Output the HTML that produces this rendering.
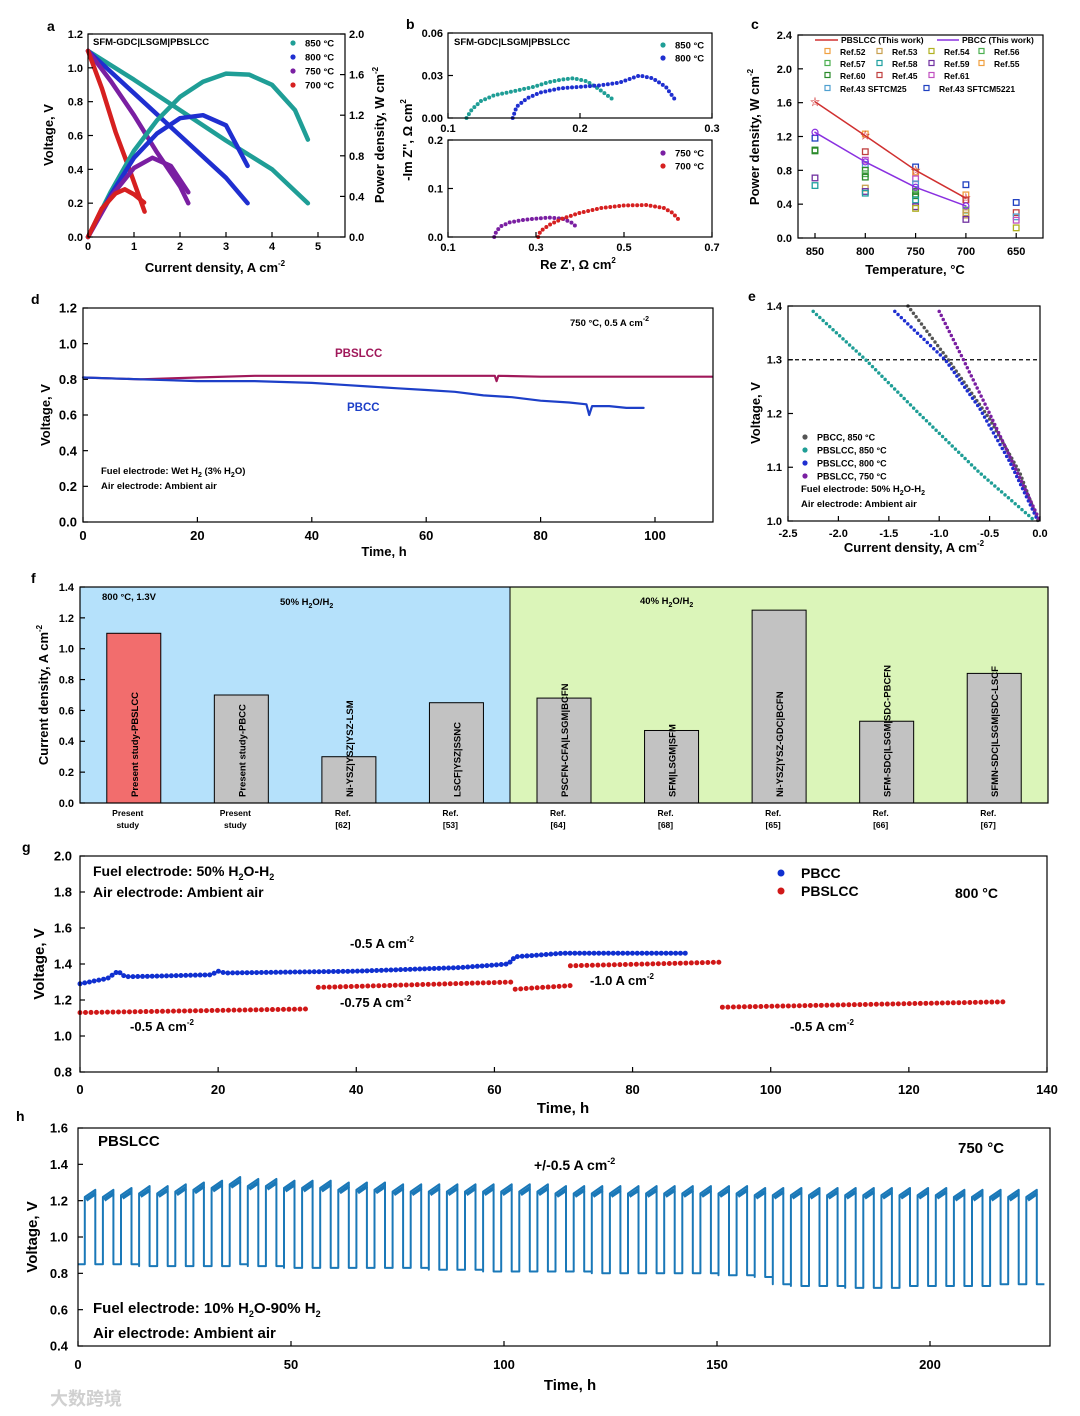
<!DOCTYPE html>
<html><head><meta charset="utf-8"><style>
html,body{margin:0;padding:0;background:#fff;}
svg{display:block;font-family:"Liberation Sans","Noto Sans CJK SC",sans-serif;font-weight:bold;}
</style></head><body>
<svg id="fig" width="1080" height="1416" viewBox="0 0 1080 1416" xmlns="http://www.w3.org/2000/svg">
<rect x="0" y="0" width="1080" height="1416" fill="#fff"/>
<rect x="80" y="587" width="430" height="216" fill="#b5e1fb"/>
<rect x="510" y="587" width="538" height="216" fill="#dbf5b9"/>
<g id="marks"></g>
<g id="axes"></g>
<g font-size="14" fill="#000">
<text x="47" y="31">a</text>
<text x="406" y="29">b</text>
<text x="751" y="29">c</text>
<text x="31" y="304">d</text>
<text x="748" y="301">e</text>
<text x="31" y="583">f</text>
<text x="22" y="852">g</text>
<text x="16" y="1121">h</text>
</g>
<g font-size="13">
<text x="215" y="272" text-anchor="middle">Current density, A cm<tspan font-size="8" dy="-6">-2</tspan></text>
<text transform="translate(53,135) rotate(-90)" text-anchor="middle">Voltage, V</text>
<text transform="translate(384,135) rotate(-90)" text-anchor="middle">Power density, W cm<tspan font-size="8" dy="-6">-2</tspan></text>
<text x="578" y="269" text-anchor="middle">Re Z', Ω cm<tspan font-size="8" dy="-6">2</tspan></text>
<text transform="translate(412,140) rotate(-90)" text-anchor="middle">-Im Z'', Ω cm<tspan font-size="8" dy="-6">2</tspan></text>
<text x="915" y="274" text-anchor="middle">Temperature, °C</text>
<text transform="translate(759,137) rotate(-90)" text-anchor="middle">Power density, W cm<tspan font-size="8" dy="-6">-2</tspan></text>
<text x="384" y="556" text-anchor="middle">Time, h</text>
<text transform="translate(50,415) rotate(-90)" text-anchor="middle">Voltage, V</text>
<text x="914" y="552" text-anchor="middle">Current density, A cm<tspan font-size="8" dy="-6">-2</tspan></text>
<text transform="translate(760,413) rotate(-90)" text-anchor="middle">Voltage, V</text>
<text transform="translate(48,695) rotate(-90)" text-anchor="middle">Current density, A cm<tspan font-size="8" dy="-6">-2</tspan></text>
</g>
<g font-size="15">
<text x="563" y="1113" text-anchor="middle">Time, h</text>
<text transform="translate(44,964) rotate(-90)" text-anchor="middle">Voltage, V</text>
<text x="570" y="1390" text-anchor="middle">Time, h</text>
<text transform="translate(37,1237) rotate(-90)" text-anchor="middle">Voltage, V</text>
</g>
<g font-size="9.5">
<text x="93" y="45">SFM-GDC|LSGM|PBSLCC</text>
<text x="454" y="45">SFM-GDC|LSGM|PBSLCC</text>
<text x="570" y="326">750 °C, 0.5 A cm<tspan font-size="7" dy="-5">-2</tspan></text>
<text x="101" y="474">Fuel electrode: Wet H<tspan font-size="7" dy="3">2</tspan><tspan dy="-3"> (3% H</tspan><tspan font-size="7" dy="3">2</tspan><tspan dy="-3">O)</tspan></text>
<text x="101" y="489">Air electrode: Ambient air</text>
<text x="801" y="492">Fuel electrode: 50% H<tspan font-size="7" dy="3">2</tspan><tspan dy="-3">O-H</tspan><tspan font-size="7" dy="3">2</tspan></text>
<text x="801" y="507">Air electrode: Ambient air</text>
<text x="102" y="600">800 °C, 1.3V</text>
<text x="280" y="605">50% H<tspan font-size="7" dy="3">2</tspan><tspan dy="-3">O/H</tspan><tspan font-size="7" dy="3">2</tspan></text>
<text x="640" y="604">40% H<tspan font-size="7" dy="3">2</tspan><tspan dy="-3">O/H</tspan><tspan font-size="7" dy="3">2</tspan></text>
</g>
<g font-size="11.5">
<text x="335" y="357" fill="#a0185a">PBSLCC</text>
<text x="347" y="411" fill="#1d3fc8">PBCC</text>
</g>
<g font-size="14">
<text x="93" y="876">Fuel electrode: 50% H<tspan font-size="9" dy="4">2</tspan><tspan dy="-4">O-H</tspan><tspan font-size="9" dy="4">2</tspan></text>
<text x="93" y="897">Air electrode: Ambient air</text>
<circle cx="781" cy="873" r="3.5" fill="#1030d0"/>
<text x="801" y="878">PBCC</text>
<circle cx="781" cy="891" r="3.5" fill="#d01818"/>
<text x="801" y="896">PBSLCC</text>
<text x="955" y="898">800 °C</text>
<text x="350" y="948" font-size="13">-0.5 A cm<tspan font-size="8" dy="-6">-2</tspan></text>
<text x="130" y="1031" font-size="13">-0.5 A cm<tspan font-size="8" dy="-6">-2</tspan></text>
<text x="340" y="1007" font-size="13">-0.75 A cm<tspan font-size="8" dy="-6">-2</tspan></text>
<text x="590" y="985" font-size="13">-1.0 A cm<tspan font-size="8" dy="-6">-2</tspan></text>
<text x="790" y="1031" font-size="13">-0.5 A cm<tspan font-size="8" dy="-6">-2</tspan></text>
<text x="98" y="1146" font-size="15">PBSLCC</text>
<text x="958" y="1153" font-size="15">750 °C</text>
<text x="534" y="1170">+/-0.5 A cm<tspan font-size="9" dy="-6">-2</tspan></text>
<text x="93" y="1313" font-size="15">Fuel electrode: 10% H<tspan font-size="9" dy="4">2</tspan><tspan dy="-4">O-90% H</tspan><tspan font-size="9" dy="4">2</tspan></text>
<text x="93" y="1338" font-size="15">Air electrode: Ambient air</text>
</g>
<text x="50" y="1405" font-size="18" fill="#d0d0d0">大数跨境</text>
</svg>
<script>
const a850J=[0,1,2,3,4,4.78], a850V=[1.1,0.93,0.75,0.57,0.4,0.2];
const a800J=[0,1,2,3,3.47], a800V=[1.1,0.85,0.6,0.35,0.2];
const a750J=[0,0.5,1,1.5,2,2.18], a750V=[1.1,0.92,0.72,0.5,0.3,0.2];
const a700J=[0,0.3,0.6,0.9,1.23], a700V=[1.1,0.88,0.62,0.4,0.15];
const p850J=[0,0.5,1,1.5,2,2.5,3,3.5,4,4.5,4.78], p850P=[0,0.45,0.85,1.15,1.38,1.53,1.61,1.6,1.5,1.25,0.96];
const p800J=[0,0.5,1,1.5,2,2.5,3,3.47], p800P=[0,0.42,0.78,1.02,1.17,1.2,1.1,0.7];
const p750J=[0,0.5,1,1.4,1.8,2.18], p750P=[0,0.4,0.68,0.78,0.7,0.44];
const p700J=[0,0.3,0.6,0.8,1.0,1.22], p700P=[0,0.28,0.43,0.47,0.42,0.34];
const b850Re=[0.114,0.118,0.125,0.135,0.15,0.165,0.175,0.185,0.195,0.205,0.215,0.225], b850Im=[0,0.006,0.012,0.016,0.019,0.022,0.025,0.027,0.028,0.026,0.02,0.013];
const b800Re=[0.149,0.152,0.16,0.17,0.185,0.2,0.215,0.23,0.245,0.255,0.265,0.272], b800Im=[0,0.008,0.014,0.018,0.021,0.022,0.023,0.025,0.03,0.028,0.022,0.013];
const b750Re=[0.205,0.21,0.22,0.24,0.27,0.3,0.33,0.36,0.38,0.393], b750Im=[0,0.012,0.022,0.03,0.035,0.038,0.04,0.038,0.03,0.02];
const b700Re=[0.305,0.31,0.33,0.36,0.4,0.45,0.5,0.55,0.59,0.61,0.625], b700Im=[0,0.012,0.025,0.038,0.05,0.06,0.065,0.066,0.06,0.05,0.035];
const cTemps=['850','800','750','700','650'];
const cPBSLCC=[1.61,1.21,0.8,0.47];
const cPBCC=[1.25,0.9,0.6,0.38];
const cRefCat=[0,0,0,0,0,1,1,1,1,1,1,1,1,1,1,2,2,2,2,2,2,2,2,2,2,3,3,3,3,3,3,3,4,4,4,4,4];
const cRefVal=[1.18,1.03,1.04,0.71,0.62,1.23,1.02,0.92,0.87,0.8,0.76,0.72,0.59,0.55,0.53,0.84,0.78,0.7,0.64,0.55,0.52,0.5,0.45,0.37,0.35,0.63,0.51,0.45,0.33,0.3,0.27,0.22,0.42,0.3,0.25,0.21,0.12];
const cRefCol=[9,6,6,5,4,7,8,3,10,6,2,6,1,5,4,9,7,3,10,6,2,6,4,5,0,9,7,8,2,1,1,5,9,8,10,3,0];
const cPalette=['#b0b020','#c8a050','#4caf50','#c050c0','#20a0a0','#7030a0','#2a8a2a','#f0a040','#c04040','#2040c0','#50a0d0'];
const dPbslccT=[0,10,20,30,40,50,60,70,72,72.3,72.6,80,90,100,110], dPbslccV=[0.81,0.80,0.81,0.82,0.82,0.82,0.82,0.82,0.82,0.79,0.82,0.815,0.815,0.815,0.815];
const dPbccT=[0,10,20,30,40,45,50,55,60,65,70,75,80,85,88,88.5,89,92,95,98], dPbccV=[0.81,0.80,0.79,0.79,0.78,0.77,0.76,0.75,0.74,0.73,0.71,0.70,0.68,0.67,0.66,0.60,0.65,0.65,0.64,0.64];
const eJ1=[-1.31,-0.91,-0.5,-0.2,-0.02], eV1=[1.4,1.3,1.19,1.09,1.0];
const eJ2=[-2.25,-1.73,-1.2,-0.6,-0.05], eV2=[1.39,1.3,1.2,1.09,1.0];
const eJ3=[-1.44,-0.94,-0.6,-0.3,-0.02], eV3=[1.39,1.3,1.21,1.11,1.0];
const eJ4=[-1.0,-0.76,-0.5,-0.25,0], eV4=[1.39,1.3,1.2,1.1,1.0];
const fValues=[1.1,0.7,0.3,0.65,0.68,0.47,1.25,0.53,0.84];
const fCells=['Present study-PBSLCC','Present study-PBCC','Ni-YSZ|YSZ|YSZ-LSM','LSCF|YSZ|SSNC','PSCFN-CFA|LSGM|BCFN','SFM|LSGM|SFM','Ni-YSZ|YSZ-GDC|BCFN','SFM-SDC|LSGM|SDC-PBCFN','SFMN-SDC|LSGM|SDC-LSCF'];
const fRef1=['Present','Present','Ref.','Ref.','Ref.','Ref.','Ref.','Ref.','Ref.'];
const fRef2=['study','study','[62]','[53]','[64]','[68]','[65]','[66]','[67]'];
const gBlueT=[0,4,5.5,6.5,8,19,20,21,40,55,62,63,70,88], gBlueV=[1.29,1.32,1.36,1.33,1.33,1.34,1.36,1.35,1.36,1.38,1.40,1.44,1.46,1.46];
const gRedT=[[0,33],[34.5,63],[63,71],[71,93],[93,134]];
const gRedV=[[1.13,1.15],[1.27,1.30],[1.26,1.28],[1.39,1.41],[1.16,1.19]];
const hStart=1.6, hPeriod=4.25, hHiFrac=0.58;
const hHi=[1.26,1.26,1.27,1.28,1.28,1.29,1.30,1.31,1.33,1.32,1.32,1.31,1.31,1.31,1.30,1.30,1.30,1.29,1.29,1.29,1.29,1.29,1.29,1.29,1.29,1.29,1.28,1.28,1.28,1.28,1.28,1.28,1.28,1.28,1.28,1.28,1.28,1.27,1.27,1.27,1.27,1.27,1.27,1.27,1.27,1.27,1.27,1.27,1.26,1.26,1.26,1.26,1.26];
const hLo=[0.85,0.85,0.85,0.84,0.84,0.84,0.84,0.84,0.85,0.84,0.84,0.83,0.83,0.83,0.83,0.83,0.83,0.83,0.83,0.82,0.82,0.82,0.81,0.81,0.81,0.81,0.81,0.81,0.80,0.80,0.80,0.80,0.80,0.80,0.80,0.79,0.79,0.78,0.74,0.73,0.73,0.73,0.72,0.72,0.72,0.73,0.73,0.73,0.73,0.73,0.74,0.74,0.74];

const NS='http://www.w3.org/2000/svg';
const svg=document.getElementById('fig');
const M=document.getElementById('marks');
const A=document.getElementById('axes');
function mk(tag,attrs,parent){const n=document.createElementNS(NS,tag);for(const k in attrs)n.setAttribute(k,attrs[k]);parent.appendChild(n);return n;}
function lin(d0,d1,p0,p1){return v=>p0+(v-d0)/(d1-d0)*(p1-p0);}
function pts(xs,ys,X,Y){return xs.map((x,i)=>X(x).toFixed(1)+','+Y(ys[i]).toFixed(1)).join(' ');}
function line(xs,ys,X,Y,color,w,name,dash){
  const p=mk('polyline',{points:pts(xs,ys,X,Y),fill:'none',stroke:color,'stroke-width':w,'stroke-linejoin':'round','stroke-linecap':'round'},M);
  if(dash)p.setAttribute('stroke-dasharray',dash);
  
  
  return p;
}
function frame(x0,y0,x1,y1,name){
  const r=mk('rect',{x:x0,y:y0,width:x1-x0,height:y1-y0,fill:'none',stroke:'#000','stroke-width':1.2},A);
  
  
}
function xTicks(p,vals,labels,X,yb,yt,ly,fs){
  vals.forEach((v,i)=>{
    const t=mk('line',{x1:X(v),x2:X(v),y1:yb,y2:yb-5,stroke:'#000','stroke-width':1.2},A);
    
    
    const tx=mk('text',{x:X(v),y:ly,'text-anchor':'middle','font-size':fs},A);
    tx.textContent=labels[i];
    
    
  });
}
function yTicks(p,vals,labels,Y,xl,lx,fs,side){
  vals.forEach((v,i)=>{
    const dir=side==='right'?-5:5;
    const t=mk('line',{x1:xl,x2:xl+dir,y1:Y(v),y2:Y(v),stroke:'#000','stroke-width':1.2},A);
    
    
    const tx=mk('text',{x:lx,y:Y(v)+fs*0.36,'text-anchor':side==='right'?'start':'end','font-size':fs},A);
    tx.textContent=labels[i];
    
    
  });
}
function legendDot(x,y,color,label,name,fs){
  const c=mk('circle',{cx:x,cy:y,r:2.6,fill:color},A);
  
  
  const t=mk('text',{x:x+12,y:y+3.3,'font-size':fs||9.5},A);
  t.textContent=label;
  
  
}
const fmt=(d)=>v=>v.toFixed(d);
const T='#1f9e96',B='#1f2fd0',P='#7a1fa2',R='#d62020';

{
const X=lin(0,5,88,318),Y=lin(0,1.2,237,34),PW=lin(0,2,237,34);
frame(88,34,345,237,'a-plot-frame');
xTicks('a',[0,1,2,3,4,5],['0','1','2','3','4','5'],X,237,34,250,11);
yTicks('a',[0,0.2,0.4,0.6,0.8,1.0,1.2],[0,0.2,0.4,0.6,0.8,1.0,1.2].map(fmt(1)),Y,88,83,11,'left');
yTicks('a',[0,0.4,0.8,1.2,1.6,2.0],[0,0.4,0.8,1.2,1.6,2.0].map(fmt(1)),PW,345,349,11,'right');
line(a850J,a850V,X,Y,T,4.5,'a-voltage-850');
line(a800J,a800V,X,Y,B,4.5,'a-voltage-800');
line(a750J,a750V,X,Y,P,4.5,'a-voltage-750');
line(a700J,a700V,X,Y,R,4.5,'a-voltage-700');
line(p850J,p850P,X,PW,T,4.5,'a-power-850');
line(p800J,p800P,X,PW,B,4.5,'a-power-800');
line(p750J,p750P,X,PW,P,4.5,'a-power-750');
line(p700J,p700P,X,PW,R,4.5,'a-power-700');
legendDot(293,43,T,'850 °C','a-legend-850');
legendDot(293,57,B,'800 °C','a-legend-800');
legendDot(293,71,P,'750 °C','a-legend-750');
legendDot(293,85,R,'700 °C','a-legend-700');
}
{
const X=lin(0.1,0.3,448,712),Y=lin(0,0.06,118,33);
frame(448,33,712,118,'b-top-frame');
xTicks('b-top',[0.1,0.2,0.3],['0.1','0.2','0.3'],X,118,33,132,11);
yTicks('b-top',[0,0.03,0.06],['0.00','0.03','0.06'],Y,448,443,11,'left');
line(b850Re,b850Im,X,Y,T,4,'b-nyquist-850','0 4.5');
line(b800Re,b800Im,X,Y,B,4,'b-nyquist-800','0 4.5');
legendDot(663,45,T,'850 °C','b-legend-850');
legendDot(663,58,B,'800 °C','b-legend-800');
const X2=lin(0.1,0.7,448,712),Y2=lin(0,0.2,237,140);
frame(448,140,712,237,'b-bottom-frame');
xTicks('b-bot',[0.1,0.3,0.5,0.7],['0.1','0.3','0.5','0.7'],X2,237,140,251,11);
yTicks('b-bot',[0,0.1,0.2],['0.0','0.1','0.2'],Y2,448,443,11,'left');
line(b750Re,b750Im,X2,Y2,P,4,'b-nyquist-750','0 4.5');
line(b700Re,b700Im,X2,Y2,R,4,'b-nyquist-700','0 4.5');
legendDot(663,153,P,'750 °C','b-legend-750');
legendDot(663,166,R,'700 °C','b-legend-700');
}
{
const X=i=>815+50.3*i,Y=lin(0,2.4,238,35);
frame(798,35,1043,238,'c-plot-frame');
xTicks('c',[0,1,2,3,4],cTemps,X,238,35,255,11);
yTicks('c',[0,0.4,0.8,1.2,1.6,2.0,2.4],[0,0.4,0.8,1.2,1.6,2.0,2.4].map(fmt(1)),Y,798,792,11,'left');
cRefVal.forEach((v,i)=>{
  const s=mk('rect',{x:X(cRefCat[i])-2.8,y:Y(v)-2.8,width:5.6,height:5.6,fill:'none',stroke:cPalette[cRefCol[i]],'stroke-width':1.3},M);
  
  
});
line([0,1,2,3],cPBSLCC,X,Y,'#d03030',1.5,'c-line-pbslcc');
line([0,1,2,3],cPBCC,X,Y,'#8a30e0',1.5,'c-line-pbcc');
cPBSLCC.forEach((v,i)=>{const t=mk('text',{x:X(i),y:Y(v)+3.5,'text-anchor':'middle','font-size':10,fill:'#d03030'},M);t.textContent='☆';
  
  });
cPBCC.forEach((v,i)=>{const c=mk('circle',{cx:X(i),cy:Y(v),r:3,fill:'none',stroke:'#8a30e0','stroke-width':1.2},M);
  
  });
const lg=mk('g',{'font-size':8.5},A);


const l1=mk('line',{x1:815,x2:838,y1:40,y2:40,stroke:'#d03030','stroke-width':1.5},lg);


const l2=mk('line',{x1:937,x2:959,y1:40,y2:40,stroke:'#8a30e0','stroke-width':1.5},lg);


const items=[[841,43,'PBSLCC (This work)',null],[962,43,'PBCC (This work)',null],
 [840,55,'Ref.52',7],[892,55,'Ref.53',1],[944,55,'Ref.54',0],[994,55,'Ref.56',2],
 [840,67,'Ref.57',2],[892,67,'Ref.58',4],[944,67,'Ref.59',5],[994,67,'Ref.55',7],
 [840,79,'Ref.60',6],[892,79,'Ref.45',8],[944,79,'Ref.61',3],
 [840,92,'Ref.43 SFTCM25',10],[939,92,'Ref.43 SFTCM5221',9]];
items.forEach(it=>{
  const t=mk('text',{x:it[0],y:it[1]},lg);t.textContent=it[2];
  
  
  if(it[3]!==null){const s=mk('rect',{x:it[0]-15,y:it[1]-6.5,width:5,height:5,fill:'none',stroke:cPalette[it[3]],'stroke-width':1.2},lg);
    
    }
});
}
{
const X=lin(0,100,83,655),Y=lin(0,1.2,522,308);
frame(83,308,713,522,'d-plot-frame');
xTicks('d',[0,20,40,60,80,100],['0','20','40','60','80','100'],X,522,308,540,13);
yTicks('d',[0,0.2,0.4,0.6,0.8,1.0,1.2],[0,0.2,0.4,0.6,0.8,1.0,1.2].map(fmt(1)),Y,83,77,13,'left');
line(dPbslccT,dPbslccV,X,Y,'#a0185a',2.2,'d-line-pbslcc');
line(dPbccT,dPbccV,X,Y,'#1d3fc8',2.2,'d-line-pbcc');
}
{
const X=lin(-2.5,0,788,1040),Y=lin(1.0,1.4,521,306);
frame(788,306,1040,521,'e-plot-frame');
xTicks('e',[-2.5,-2,-1.5,-1,-0.5,0],['-2.5','-2.0','-1.5','-1.0','-0.5','0.0'],X,521,306,537,11);
yTicks('e',[1.0,1.1,1.2,1.3,1.4],['1.0','1.1','1.2','1.3','1.4'],Y,788,782,11,'left');
const d=mk('line',{x1:788,x2:1040,y1:Y(1.3),y2:Y(1.3),stroke:'#000','stroke-width':1.2,'stroke-dasharray':'4 3'},M);


line(eJ1,eV1,X,Y,'#555',3.5,'e-line-pbcc-850','0 4.5');
line(eJ2,eV2,X,Y,T,3.5,'e-line-pbslcc-850','0 4.5');
line(eJ3,eV3,X,Y,B,3.5,'e-line-pbslcc-800','0 4.5');
line(eJ4,eV4,X,Y,P,3.5,'e-line-pbslcc-750','0 4.5');
legendDot(805,437,'#555','PBCC, 850 °C','e-legend-pbcc-850',9);
legendDot(805,450,T,'PBSLCC, 850 °C','e-legend-pbslcc-850',9);
legendDot(805,463,B,'PBSLCC, 800 °C','e-legend-pbslcc-800',9);
legendDot(805,476,P,'PBSLCC, 750 °C','e-legend-pbslcc-750',9);
}
{
const Y=lin(0,1.4,803,587),step=968/9,bw=54;
const cx=i=>80+step*(i+0.5);
fValues.forEach((v,i)=>{
  const r=mk('rect',{x:cx(i)-bw/2,y:Y(v),width:bw,height:803-Y(v),fill:i===0?'#f26d6d':'#c2c2c2',stroke:'#000','stroke-width':1},M);
  
  
  const t=mk('text',{transform:`translate(${cx(i)+4},797) rotate(-90)`,'font-size':9.5},M);
  t.textContent=fCells[i];
  
  
  const l1=mk('text',{x:cx(i)-6,y:816,'text-anchor':'middle','font-size':8.5},A);l1.textContent=fRef1[i];
  
  
  const l2=mk('text',{x:cx(i)-6,y:828,'text-anchor':'middle','font-size':8.5},A);l2.textContent=fRef2[i];
  
  
});
const sep=mk('line',{x1:510,x2:510,y1:587,y2:803,stroke:'#000','stroke-width':1},A);


frame(80,587,1048,803,'f-plot-frame');
yTicks('f',[0,0.2,0.4,0.6,0.8,1.0,1.2,1.4],[0,0.2,0.4,0.6,0.8,1.0,1.2,1.4].map(fmt(1)),Y,80,74,11,'left');
}
{
const X=lin(0,140,80,1047),Y=lin(0.8,2.0,1072,856);
frame(80,856,1047,1072,'g-plot-frame');
xTicks('g',[0,20,40,60,80,100,120,140],['0','20','40','60','80','100','120','140'],X,1072,856,1094,13);
yTicks('g',[0.8,1.0,1.2,1.4,1.6,1.8,2.0],[0.8,1.0,1.2,1.4,1.6,1.8,2.0].map(fmt(1)),Y,80,72,13,'left');
line(gBlueT,gBlueV,X,Y,'#1030d0',5,'g-series-pbcc','0 4.8');
gRedT.forEach((seg,i)=>{line(seg,gRedV[i],X,Y,'#d01818',5,'g-series-pbslcc-segment-'+(i+1),'0 5.5');});
}
{
const X=lin(0,200,78,930),Y=lin(0.4,1.6,1346,1128);
frame(78,1128,1050,1346,'h-plot-frame');
xTicks('h',[0,50,100,150,200],['0','50','100','150','200'],X,1346,1128,1369,13);
yTicks('h',[0.4,0.6,0.8,1.0,1.2,1.4,1.6],[0.4,0.6,0.8,1.0,1.2,1.4,1.6].map(fmt(1)),Y,78,68,13,'left');
let d='M'+X(0).toFixed(1)+','+Y(hLo[0]).toFixed(1);
let dh='';
hHi.forEach((hv,i)=>{
  const t0=hStart+i*hPeriod,t1=t0+hPeriod*hHiFrac,t2=t0+hPeriod;
  const te=Math.min(t1,228);
  d+=' L'+X(t0).toFixed(1)+','+Y(hLo[i]).toFixed(1);
  d+=' L'+X(t0).toFixed(1)+','+Y(hv-0.04).toFixed(1);
  d+=' L'+X(te).toFixed(1)+','+Y(hv).toFixed(1);
  dh+=' M'+X(t0+0.3).toFixed(1)+','+Y(hv-0.055).toFixed(1)+' L'+X(te).toFixed(1)+','+Y(hv-0.02).toFixed(1);
  if(t1<228){d+=' L'+X(t1).toFixed(1)+','+Y(hLo[i]).toFixed(1);
  d+=' L'+X(Math.min(t2,228)).toFixed(1)+','+Y(hLo[i]).toFixed(1);}
});
const p=mk('path',{d:d,fill:'none',stroke:'#1a78b8','stroke-width':2,'stroke-linejoin':'round'},M);


const ph=mk('path',{d:dh,fill:'none',stroke:'#1a78b8','stroke-width':4},M);


}
</script>
</body></html>
